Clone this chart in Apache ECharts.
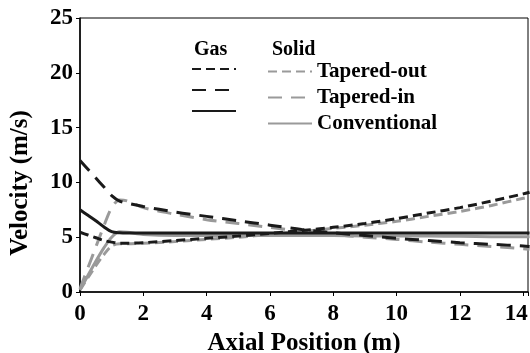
<!DOCTYPE html>
<html>
<head>
<meta charset="UTF-8">
<title>Velocity profile</title>
<script src="https://cdn.jsdelivr.net/npm/echarts@6/dist/echarts.min.js"></script>
<style>
  html, body { margin: 0; padding: 0; background: #fff; }
  #myChart { width: 530px; height: 353px; }
</style>
</head>
<body>
<div id="myChart"></div>
<script>
// axial positions (m) shared by every curve
var xs = [0, 0.25, 0.5, 0.75, 1, 1.25, 1.5, 2, 3, 4, 5, 6, 7, 8, 9, 10, 11, 12, 13, 14, 14.2];

// gas velocities (m/s)
var gasOut = [5.45, 5.2, 4.95, 4.7, 4.55, 4.45, 4.45, 4.5, 4.7, 4.9, 5.1, 5.35, 5.6, 5.9, 6.25, 6.7, 7.2, 7.7, 8.3, 8.95, 9.1];
var gasIn = [12.0, 11.2, 10.4, 9.6, 8.8, 8.3, 8.1, 7.8, 7.3, 6.9, 6.5, 6.1, 5.7, 5.4, 5.15, 4.9, 4.7, 4.5, 4.35, 4.2, 4.15];
var gasConv = [7.5, 7.0, 6.5, 5.95, 5.5, 5.4, 5.38, 5.38, 5.38, 5.38, 5.38, 5.38, 5.38, 5.38, 5.38, 5.38, 5.38, 5.38, 5.38, 5.38, 5.38];

// solid velocities (m/s)
var solidOut = [0.2, 1.3, 2.4, 3.4, 4.2, 4.4, 4.4, 4.45, 4.6, 4.8, 5.0, 5.25, 5.5, 5.8, 6.1, 6.45, 6.9, 7.35, 7.9, 8.55, 8.65];
var solidIn = [0.3, 2.2, 4.1, 6.0, 7.7, 8.4, 8.3, 7.7, 7.1, 6.6, 6.25, 5.9, 5.55, 5.25, 5.0, 4.8, 4.55, 4.35, 4.15, 3.95, 3.9];
var solidConv = [0.2, 1.5, 2.8, 4.0, 5.0, 5.5, 5.45, 5.25, 5.15, 5.15, 5.15, 5.15, 5.15, 5.15, 5.12, 5.1, 5.1, 5.08, 5.05, 5.05, 5.05];

var cases = ["Tapered-out", "Tapered-in", "Conventional"];
var yTicks = [0, 5, 10, 15, 20, 25];
var xTicks = [0, 2, 4, 6, 8, 10, 12, 14];

var FONT = "Liberation Serif";
var BLACK = "#1a1a1a";
var GREY = "#9a9a9a";
var SHORT_DASH = [9, 5];
var LONG_DASH = [14, 9];

function pairs(ys) {
  var out = [];
  for (var i = 0; i < xs.length; i++) out.push([xs[i], ys[i]]);
  return out;
}

function line(name, ys, color, dash) {
  return {
    name: name,
    type: "line",
    data: pairs(ys),
    smooth: 0.3,
    symbol: "none",
    lineStyle: { color: color, width: 3, type: dash },
    itemStyle: { color: color }
  };
}

var myChart = echarts.init(document.getElementById("myChart"));

var legendBase = {
  orient: "vertical",
  top: 56,
  itemWidth: 44,
  itemHeight: 20,
  itemGap: 5,
  selectedMode: false,
  itemStyle: { opacity: 0 },
  textStyle: { fontFamily: FONT, fontWeight: "bold", fontSize: 21, color: "#000", lineHeight: 20 }
};

var labelFont = { fontFamily: FONT, fontWeight: "bold", fontSize: 23, color: "#000" };

var option = {
  animation: false,
  grid: {
    left: 80, right: 2, top: 18, bottom: 61,
    outerBoundsMode: "none",
    show: true, borderColor: "#000", borderWidth: 1
  },
  legend: [
    Object.assign({}, legendBase, {
      left: 186,
      data: cases.map(function (c) { return "Gas " + c; }),
      formatter: function () { return ""; }
    }),
    Object.assign({}, legendBase, {
      left: 262,
      data: cases.map(function (c) { return "Solid " + c; }),
      formatter: function (n) { return n.replace("Solid ", ""); }
    })
  ],
  graphic: [
    { type: "text", left: 194, top: 40, style: { text: "Gas", fontFamily: FONT, fontWeight: "bold", fontSize: 20, fill: "#000" } },
    { type: "text", left: 272, top: 40, style: { text: "Solid", fontFamily: FONT, fontWeight: "bold", fontSize: 20, fill: "#000" } }
  ],
  xAxis: {
    type: "value",
    min: xTicks[0],
    max: 14.15,
    interval: 2,
    name: "Axial Position (m)",
    nameLocation: "middle",
    nameGap: 34,
    nameTextStyle: { fontFamily: FONT, fontWeight: "bold", fontSize: 25, color: "#000" },
    axisLine: { lineStyle: { color: "#000", width: 1.5 } },
    axisTick: { show: true, length: 4, lineStyle: { color: "#000" } },
    axisLabel: Object.assign({
      margin: 11,
      showMaxLabel: true,
      formatter: function (v) {
        if (xTicks.indexOf(v) < 0) return "";
        // last label is pushed left so it stays inside the canvas
        return v === xTicks[xTicks.length - 1] ? "{edge|" + v + "}" : String(v);
      },
      rich: { edge: Object.assign({ padding: [0, 14, 0, 0] }, labelFont) }
    }, labelFont),
    splitLine: { show: false }
  },
  yAxis: {
    type: "value",
    min: yTicks[0],
    max: yTicks[yTicks.length - 1],
    interval: 5,
    name: "Velocity (m/s)",
    nameLocation: "middle",
    nameRotate: 90,
    nameGap: 47,
    nameTextStyle: { fontFamily: FONT, fontWeight: "bold", fontSize: 25, color: "#000", padding: [0, 56, 0, 0] },
    axisLine: { show: true, lineStyle: { color: "#000", width: 1.5 } },
    axisTick: { show: true, length: 4, lineStyle: { color: "#000" } },
    axisLabel: Object.assign({ margin: 7 }, labelFont),
    splitLine: { show: false }
  },
  series: [
    line("Solid Tapered-out", solidOut, GREY, SHORT_DASH),
    line("Solid Tapered-in", solidIn, GREY, LONG_DASH),
    line("Solid Conventional", solidConv, GREY, "solid"),
    line("Gas Tapered-out", gasOut, BLACK, SHORT_DASH),
    line("Gas Tapered-in", gasIn, BLACK, LONG_DASH),
    line("Gas Conventional", gasConv, BLACK, "solid")
  ]
};

myChart.setOption(option);
</script>
</body>
</html>
